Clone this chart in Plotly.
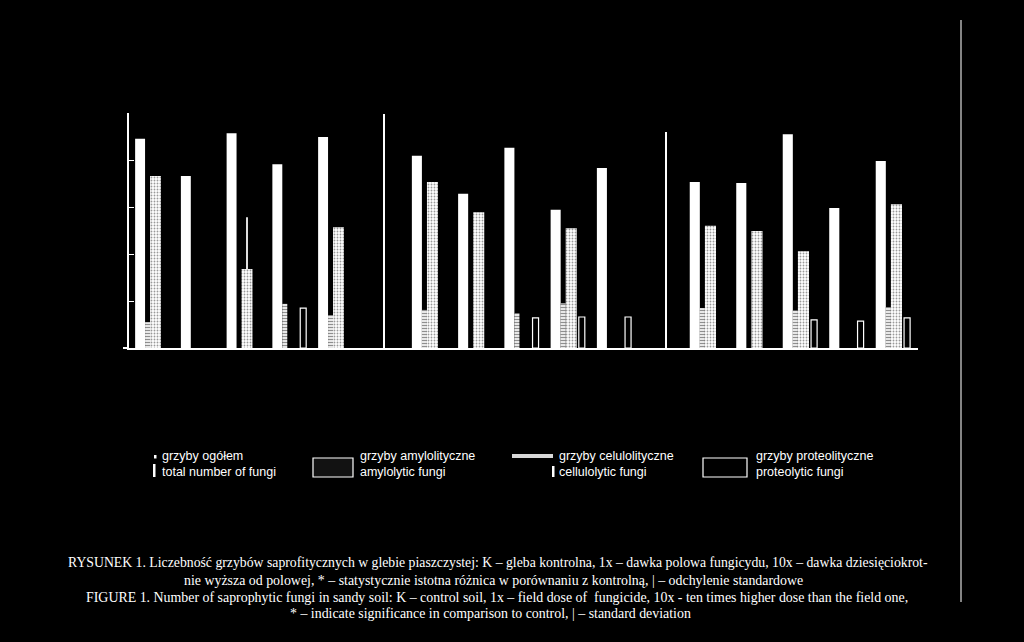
import plotly.graph_objects as go

W, H = 1024, 642

# ---- data (arbitrary units; 1 unit = one axis tick) ----
groups = ["I", "II", "III", "IV", "V"]
panels = ["K", "1x", "10x"]

total_K = [4.45, 3.66, 4.57, 3.91, 4.49]
amylo_K = [3.66, None, 1.68, None, 2.57]
amylo_sd_K = [0, 0, 1.1, 0, 0]
cellulo_K = [0.55, None, None, 0.94, 0.70]
proteo_K = [None, None, None, 0.85, None]

total_1x = [4.09, 3.28, 4.26, 2.94, 3.83]
amylo_1x = [3.53, 2.89, None, 2.55, None]
amylo_sd_1x = [0, 0, 0, 0, 0]
cellulo_1x = [0.81, None, 0.74, 0.95, None]
proteo_1x = [None, None, 0.64, 0.66, 0.66]

total_10x = [3.53, 3.51, 4.55, 2.98, 3.98]
amylo_10x = [2.60, 2.49, 2.06, None, 3.06]
amylo_sd_10x = [0, 0, 0, 0, 0]
cellulo_10x = [0.85, None, 0.80, None, 0.87]
proteo_10x = [None, None, 0.60, 0.57, 0.64]

legend_pl = ["grzyby ogółem", "grzyby amylolityczne", "grzyby celulolityczne", "grzyby proteolityczne"]
legend_en = ["total number of fungi", "amylolytic fungi", "cellulolytic fungi", "proteolytic fungi"]

caption = [
    "RYSUNEK 1. Liczebność grzybów saprofitycznych w glebie piaszczystej: K – gleba kontrolna, 1x – dawka polowa fungicydu, 10x – dawka dziesięciokrot-",
    "nie wyższa od polowej, * – statystycznie istotna różnica w porównaniu z kontrolną, | – odchylenie standardowe",
    "FIGURE 1. Number of saprophytic fungi in sandy soil: K – control soil, 1x – field dose of  fungicide, 10x - ten times higher dose than the field one,",
    "* – indicate significance in comparison to control, | – standard deviation",
]

series = {
    "K": (total_K, amylo_K, amylo_sd_K, cellulo_K, proteo_K),
    "1x": (total_1x, amylo_1x, amylo_sd_1x, cellulo_1x, proteo_1x),
    "10x": (total_10x, amylo_10x, amylo_sd_10x, cellulo_10x, proteo_10x),
}

# ---- layout helpers (pixel -> paper) ----
def px(x):
    return x / W

def py(y):
    return 1 - y / H

base_y = 348
panel_x = [(129, 385), (385, 667), (667, 918)]
panel_top = [113, 114, 132]
unit_px = 47.0
x_ranges = [[-0.634, 4.962], [-1.081, 5.016], [-0.989, 4.409]]

fig = go.Figure()
for k, p in enumerate(panels):
    sfx = "" if k == 0 else str(k + 1)
    tot, amy, amy_sd, cel, pro = series[p]
    xa, ya = "x" + sfx, "y" + sfx
    fig.add_trace(go.Bar(x=groups, y=tot, xaxis=xa, yaxis=ya, offset=-0.5, width=0.217,
                         marker=dict(color="white", line=dict(width=0)), name=legend_en[0]))
    fig.add_trace(go.Bar(x=groups, y=cel, xaxis=xa, yaxis=ya, offset=-0.283, width=0.109,
                         marker=dict(color="#e8e8e8", line=dict(width=0),
                                     pattern=dict(shape="-", fgcolor="#222", size=3, solidity=0.3, fillmode="overlay")),
                         name=legend_en[2]))
    fig.add_trace(go.Bar(x=groups, y=amy, xaxis=xa, yaxis=ya, offset=-0.174, width=0.239,
                         marker=dict(color="white", line=dict(width=0),
                                     pattern=dict(shape=".", fgcolor="#333", size=3, solidity=0.3, fillmode="overlay")),
                         error_y=dict(type="data", array=amy_sd, arrayminus=[0] * len(amy_sd), symmetric=False,
                                      color="#dddddd", thickness=2, width=0),
                         name=legend_en[1]))
    fig.add_trace(go.Bar(x=groups, y=pro, xaxis=xa, yaxis=ya, offset=0.109, width=0.13,
                         marker=dict(color="black", line=dict(width=1.2, color="white")), name=legend_en[3]))

    x0, x1 = panel_x[k]
    top = panel_top[k]
    fig.layout["xaxis" + sfx] = dict(domain=[px(x0), px(x1)], anchor=ya, type="category",
                                     range=x_ranges[k], showline=True, linecolor="white", linewidth=2,
                                     showgrid=False, zeroline=False, showticklabels=False, ticks="",
                                     fixedrange=True)
    fig.layout["yaxis" + sfx] = dict(domain=[py(base_y), py(top)], anchor=xa,
                                     range=[0, (base_y - top) / unit_px], showline=True, linecolor="white",
                                     linewidth=1.6, showgrid=False, zeroline=False, showticklabels=False,
                                     ticks="inside" if k == 0 else "", ticklen=5, tickcolor="white",
                                     tickwidth=1, dtick=1, tick0=0, fixedrange=True)

shapes = [
    # baseline overhang left of first axis
    dict(type="line", xref="paper", yref="paper", x0=px(123), x1=px(129), y0=py(base_y), y1=py(base_y),
         line=dict(color="white", width=2)),
    # page edge line on the right
    dict(type="line", xref="paper", yref="paper", x0=px(961), x1=px(961), y0=py(20), y1=py(602),
         line=dict(color="#b0b0b0", width=1.5)),
    # legend symbols
    dict(type="rect", xref="paper", yref="paper", x0=px(154), x1=px(156.5), y0=py(458.5), y1=py(455),
         fillcolor="white", line=dict(width=0)),
    dict(type="rect", xref="paper", yref="paper", x0=px(153), x1=px(155.5), y0=py(477), y1=py(464),
         fillcolor="white", line=dict(width=0)),
    dict(type="rect", xref="paper", yref="paper", x0=px(313), x1=px(353), y0=py(477), y1=py(458),
         fillcolor="rgba(255,255,255,0.07)", line=dict(color="white", width=1.2)),
    dict(type="rect", xref="paper", yref="paper", x0=px(512), x1=px(553), y0=py(458), y1=py(454),
         fillcolor="#d8d8d8", line=dict(width=0)),
    dict(type="rect", xref="paper", yref="paper", x0=px(552), x1=px(554.5), y0=py(477), y1=py(466),
         fillcolor="white", line=dict(width=0)),
    dict(type="rect", xref="paper", yref="paper", x0=px(703), x1=px(747), y0=py(477), y1=py(458),
         fillcolor="rgba(0,0,0,0)", line=dict(color="white", width=1.2)),
]

annotations = []
legend_text_x = [160, 358, 557, 754]
for i in range(4):
    for txt, yy in ((legend_pl[i], 456), (legend_en[i], 472)):
        annotations.append(dict(text=txt, xref="paper", yref="paper", x=px(legend_text_x[i]), y=py(yy),
                                xanchor="left", yanchor="middle", showarrow=False,
                                font=dict(family="Liberation Sans, Arial, sans-serif", size=12.5, color="white")))

cap_x = [66, 182, 84, 288]
cap_y = [562, 580, 597, 613]
cap_size = [13.75, 13.9, 13.9, 13.9]
for txt, xx, yy, fs in zip(caption, cap_x, cap_y, cap_size):
    annotations.append(dict(text=txt, xref="paper", yref="paper", x=px(xx), y=py(yy),
                            xanchor="left", yanchor="middle", showarrow=False,
                            font=dict(family="Liberation Serif, Times New Roman, serif", size=fs, color="white")))

fig.update_layout(width=W, height=H, margin=dict(l=0, r=0, t=0, b=0),
                  paper_bgcolor="black", plot_bgcolor="rgba(0,0,0,0)",
                  barmode="overlay", showlegend=False, shapes=shapes, annotations=annotations)

page_css = ("document.documentElement.style.background='black';"
            "document.body.style.margin='0';document.body.style.background='black';"
            "document.body.style.overflow='hidden';")
fig.write_html("out.html", post_script=page_css, config={"displayModeBar": False})
